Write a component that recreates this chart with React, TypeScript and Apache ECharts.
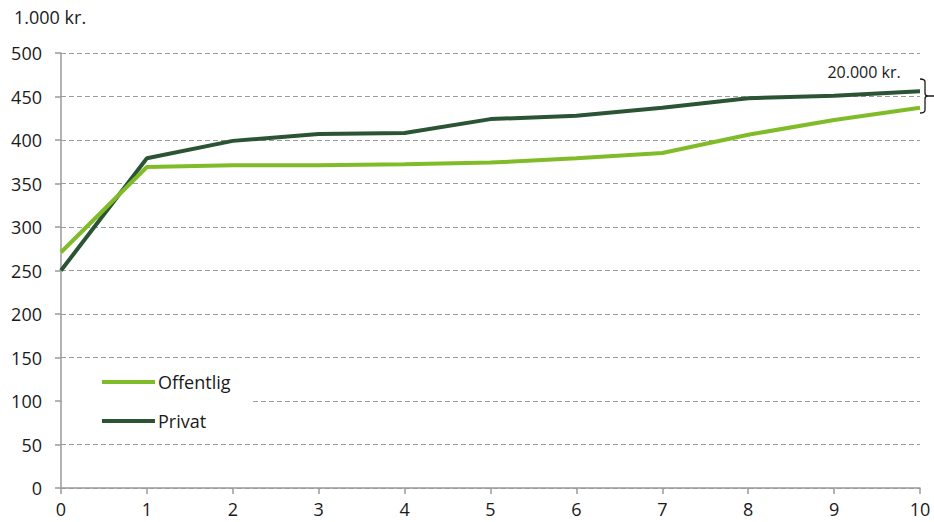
import React, { useEffect, useRef } from "react";
import * as echarts from "echarts";

const categories = ["0", "1", "2", "3", "4", "5", "6", "7", "8", "9", "10"];
const offentlig = [271, 369, 371, 371, 372, 374, 379, 385, 406, 423, 437];
const privat = [250, 379, 399, 407, 408, 424, 428, 437, 448, 451, 456];
const yUnit = "1.000 kr.";
const annotation = "20.000 kr.";

const braceD =
  "M0,0 Q5,0 5,3 L5,14 Q5,17 8,17 L14,17 M8,17 Q5,17 5,20 L5,31 Q5,34 0,34";

let registered = false;
function ensureShape() {
  if (registered) return;
  echarts.graphic.registerShape("brace", echarts.graphic.extendPath(braceD, {}) as any);
  registered = true;
}

export default function App() {
  const ref = useRef<HTMLDivElement>(null);
  useEffect(() => {
    document.body.style.margin = "0";
    if (!ref.current) return;
    ensureShape();
    const chart = echarts.init(ref.current, undefined, { renderer: "svg" });
    const font = "'Open Sans', sans-serif";
    chart.setOption({
      animation: false,
      textStyle: { fontFamily: font },
      grid: { left: 61, right: 14, top: 53, bottom: 34, containLabel: false },
      xAxis: {
        type: "category",
        data: categories,
        boundaryGap: false,
        axisLine: { show: true, lineStyle: { color: "#9a9a9a", width: 1.5 } },
        axisTick: { show: true, length: 6, lineStyle: { color: "#9a9a9a", width: 1.5 } },
        axisLabel: { color: "#1a1a1a", fontSize: 18, margin: 12, fontFamily: font },
        splitLine: { show: false },
      },
      yAxis: {
        type: "value",
        min: 0,
        max: 500,
        interval: 50,
        axisLine: { show: true, lineStyle: { color: "#9a9a9a", width: 1.5 } },
        axisTick: { show: true, length: 6, lineStyle: { color: "#9a9a9a", width: 1.5 } },
        axisLabel: { color: "#1a1a1a", fontSize: 18, margin: 19, fontFamily: font },
        splitLine: { show: true, lineStyle: { color: "#9c9c9c", type: [5, 3], width: 1 } },
      },
      legend: {
        orient: "vertical",
        left: 62,
        top: 365,
        padding: [5, 22, 5, 40],
        backgroundColor: "#ffffff",
        icon: "rect",
        itemWidth: 53,
        itemHeight: 4,
        itemGap: 15,
        textStyle: { color: "#1a1a1a", fontSize: 18, lineHeight: 24, fontFamily: font, padding: [0, 0, 0, -2] },
        data: ["Offentlig", "Privat"],
      },
      graphic: [
        {
          type: "text",
          left: 14,
          top: 8,
          style: { text: yUnit, fill: "#1a1a1a", fontSize: 18, fontFamily: font },
        },
        {
          type: "text",
          x: 864,
          y: 72,
          style: {
            text: annotation,
            fill: "#1a1a1a",
            fontSize: 16,
            fontFamily: font,
            align: "center",
            verticalAlign: "middle",
          },
        },
        {
          type: "brace",
          x: 920,
          y: 79,
          z: 10,
          style: { stroke: "#1a1a1a", fill: "none", lineWidth: 1.3 },
        },
      ],
      series: [
        {
          name: "Offentlig",
          type: "line",
          data: offentlig,
          showSymbol: false,
          symbol: "none",
          lineStyle: { color: "#80bc28", width: 4 },
          itemStyle: { color: "#80bc28" },
          z: 3,
        },
        {
          name: "Privat",
          type: "line",
          data: privat,
          showSymbol: false,
          symbol: "none",
          lineStyle: { color: "#2b5434", width: 4 },
          itemStyle: { color: "#2b5434" },
          z: 2,
        },
      ],
    });
    return () => chart.dispose();
  }, []);
  return <div ref={ref} style={{ width: 934, height: 522 }} />;
}
